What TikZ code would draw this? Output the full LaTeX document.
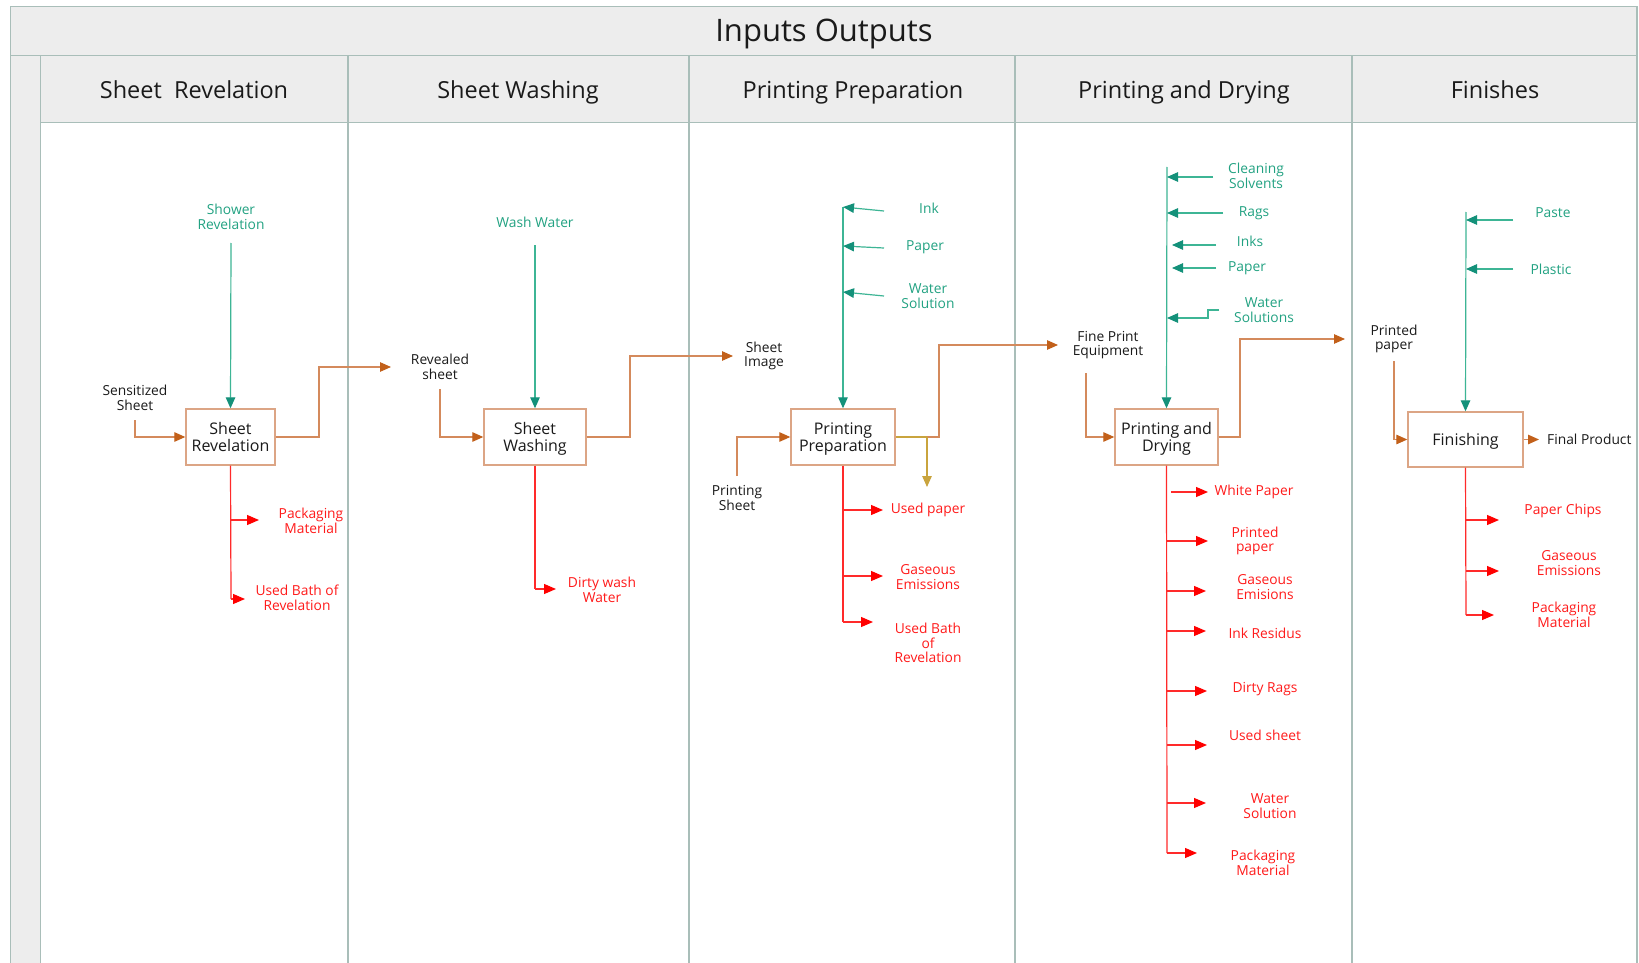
\documentclass[tikz,border=0pt]{standalone}
\usepackage{fontspec}
\setmainfont{Open Sans}
\usetikzlibrary{arrows.meta}
\definecolor{frame}{HTML}{A9BEB9}
\definecolor{hdr}{HTML}{EDEDED}
\definecolor{tealL}{HTML}{3DB595}
\definecolor{tealD}{HTML}{14917A}
\definecolor{tealT}{HTML}{22A282}
\definecolor{orL}{HTML}{D48A5C}
\definecolor{orD}{HTML}{C2601A}
\definecolor{boxB}{HTML}{DCA585}
\definecolor{redL}{HTML}{FF2A2A}
\definecolor{redT}{HTML}{FF1A1A}
\definecolor{goldc}{HTML}{C9A43E}
\definecolor{txt}{HTML}{1A1A1A}
\begin{document}
\begin{tikzpicture}[x=1pt,y=-1pt,
  lbl/.style={inner sep=0pt,align=center,font=\fontsize{13.8}{14.6}\selectfont,text=txt},
  tlbl/.style={lbl,text=tealT},
  rlbl/.style={lbl,text=redT},
  hdrtxt/.style={inner sep=0pt,anchor=base,font=\fontsize{23.5}{26}\selectfont,text=txt},
  procbox/.style={draw=boxB,line width=1.4pt,fill=white,align=center,inner sep=0pt,
     text depth=0pt,font=\fontsize{16}{17}\selectfont,text=txt},
  tealarr/.style={draw=tealL,line width=1.2pt,-{Triangle[length=11pt,width=9.5pt,color=tealD]}},
  orline/.style={draw=orL,line width=1.2pt},
  orarr/.style={orline,-{Triangle[length=11pt,width=9.5pt,color=orD]}},
  redline/.style={draw=redL,line width=1.2pt},
  redarr/.style={redline,-{Triangle[length=12pt,width=10pt,color=red]}},
  goldarr/.style={draw=goldc,line width=1.2pt,-{Triangle[length=11pt,width=9.5pt,color=goldc]}},
  lanel/.style={draw=frame,line width=1.3pt}
]
\useasboundingbox (0,0) rectangle (1639,963);
\fill[white] (0,0) rectangle (1639,963);

% ---------- frame ----------
\filldraw[lanel,fill=hdr] (10.5,6.3) rectangle (1637,55.4);
\filldraw[lanel,fill=hdr] (10.5,55.4) rectangle (40.8,975);
\foreach \xa/\xb in {40.8/348,348/689,689/1015,1015/1352,1352/1637}{
  \filldraw[lanel,fill=hdr] (\xa,55.4) rectangle (\xb,122.3);
  \draw[lanel] (\xa,122.3) -- (\xa,975);
  \draw[lanel] (\xb,122.3) -- (\xb,975);
}
\node[inner sep=0pt,anchor=base,font=\fontsize{31}{34}\selectfont,text=txt] (title) at (824,42) {Inputs Outputs};
\node[hdrtxt] (h1) at (194,98.5) {Sheet\ \ Revelation};
\node[hdrtxt] (h2) at (518,98.5) {Sheet Washing};
\node[hdrtxt] (h3) at (853,98.5) {Printing Preparation};
\node[hdrtxt] (h4) at (1184,98.5) {Printing and Drying};
\node[hdrtxt] (h5) at (1495,98.5) {Finishes};

% ---------- lane 1 ----------
\node[procbox,minimum width=89pt,minimum height=56pt] (b1) at (230.5,437) {Sheet\\Revelation};
\node[tlbl] (shw) at (231,217) {Shower\\Revelation};
\coordinate (shwS) at (231,243);
\draw[tealarr] (shwS) -- (b1.north);
\node[lbl] (sens) at (135,398) {Sensitized\\Sheet};
\coordinate (sensS) at (135,420);
\draw[orarr] (sensS) |- (b1.west);
\coordinate (o1a) at (319,437);
\coordinate (o1b) at (391,367);
\draw[orarr] (b1.east) -- (o1a) |- (o1b);
\coordinate (r1a) at (231,520);
\coordinate (r1ae) at (259,520);
\coordinate (r1b) at (231,599);
\coordinate (r1be) at (245,599);
\draw[redline] (b1.south) -- (r1b);
\draw[redarr] (r1a) -- (r1ae);
\draw[redarr] (r1b) -- (r1be);
\node[rlbl] (pk1) at (311,521) {Packaging\\Material};
\node[rlbl] (ub1) at (297,598) {Used Bath of\\Revelation};

% ---------- lane 2 ----------
\node[procbox,minimum width=102pt,minimum height=56pt] (b2) at (535,437) {Sheet\\Washing};
\node[tlbl] (ww) at (535,222) {Wash Water};
\coordinate (wwS) at (535,245);
\draw[tealarr] (wwS) -- (b2.north);
\node[lbl] (rev) at (440,367) {Revealed\\sheet};
\coordinate (revS) at (440,389);
\draw[orarr] (revS) |- (b2.west);
\coordinate (o2a) at (630,437);
\coordinate (o2b) at (733,356);
\draw[orarr] (b2.east) -- (o2a) |- (o2b);
\coordinate (r2a) at (535,589);
\coordinate (r2ae) at (556,589);
\draw[redline] (b2.south) -- (r2a);
\draw[redarr] (r2a) -- (r2ae);
\node[rlbl] (dw) at (602,590) {Dirty wash\\Water};

% ---------- lane 3 ----------
\node[procbox,minimum width=104pt,minimum height=56pt] (b3) at (843,437) {Printing\\Preparation};
\node[lbl] (simg) at (764,356) {Sheet\\Image};
\coordinate (t3top) at (843,207);
\draw[tealarr] (t3top) -- (b3.north);
\node[tlbl] (ink) at (929,208) {Ink};
\node[tlbl] (pap3) at (925,247) {Paper};
\node[tlbl] (ws3) at (928,296) {Water\\Solution};
\coordinate (i3a) at (884,211); \coordinate (i3ae) at (843,207);
\coordinate (i3b) at (884,248); \coordinate (i3be) at (843,246);
\coordinate (i3c) at (884,296); \coordinate (i3ce) at (843,292);
\draw[tealarr] (i3a) -- (i3ae);
\draw[tealarr] (i3b) -- (i3be);
\draw[tealarr] (i3c) -- (i3ce);
\node[lbl] (psh) at (737,498) {Printing\\Sheet};
\coordinate (pshN) at (737,476);
\draw[orarr] (pshN) |- (b3.west);
\coordinate (o3j) at (927,437);
\coordinate (o3a) at (939,437);
\coordinate (o3b) at (1058,345);
\draw[draw=goldc,line width=1.2pt] (b3.east) -- (o3j);
\draw[orarr] (o3j) -- (o3a) |- (o3b);
\coordinate (g3) at (927,487);
\draw[goldarr] (o3j) -- (g3);
\coordinate (r3a) at (843,510); \coordinate (r3ae) at (883,510);
\coordinate (r3b) at (843,576); \coordinate (r3be) at (883,576);
\coordinate (r3c) at (843,622); \coordinate (r3ce) at (873,622);
\draw[redline] (b3.south) -- (r3c);
\draw[redarr] (r3a) -- (r3ae);
\draw[redarr] (r3b) -- (r3be);
\draw[redarr] (r3c) -- (r3ce);
\node[rlbl] (up3) at (928,510) {Used paper};
\node[rlbl] (ge3) at (928,577) {Gaseous\\Emissions};
\node[rlbl] (ub3) at (928,643) {Used Bath\\of\\Revelation};

% ---------- lane 4 ----------
\node[procbox,minimum width=103pt,minimum height=56pt] (b4) at (1166.5,437) {Printing and\\Drying};
\node[lbl] (fpe) at (1108,345) {Fine Print\\Equipment};
\coordinate (fpeS) at (1086,373);
\draw[orarr] (fpeS) |- (b4.west);
\coordinate (t4top) at (1167,167);
\draw[tealarr] (t4top) -- (b4.north);
\node[tlbl] (cs) at (1256,176) {Cleaning\\Solvents};
\node[tlbl] (rags) at (1254,213) {Rags};
\node[tlbl] (inks) at (1250,241) {Inks};
\node[tlbl] (pap4) at (1247,268) {Paper};
\node[tlbl] (ws4) at (1264,310) {Water\\Solutions};
\coordinate (i4a) at (1213,177); \coordinate (i4ae) at (1167,177);
\coordinate (i4b) at (1223,213); \coordinate (i4be) at (1167,213);
\coordinate (i4c) at (1216,245); \coordinate (i4ce) at (1172,245);
\coordinate (i4d) at (1216,268); \coordinate (i4de) at (1172,268);
\coordinate (i4e) at (1219,310); \coordinate (i4e1) at (1208,310);
\coordinate (i4e2) at (1208,318); \coordinate (i4ee) at (1167,318);
\draw[tealarr] (i4a) -- (i4ae);
\draw[tealarr] (i4b) -- (i4be);
\draw[tealarr] (i4c) -- (i4ce);
\draw[tealarr] (i4d) -- (i4de);
\draw[tealarr] (i4e) -- (i4e1) -- (i4e2) -- (i4ee);
\coordinate (o4a) at (1240,437);
\coordinate (o4b) at (1345,339);
\draw[orarr] (b4.east) -- (o4a) |- (o4b);
\coordinate (r4end) at (1167,853);
\draw[redline] (b4.south) -- (r4end);
\foreach \yy/\xs/\xe/\nm in {492/1171/1208/a,541/1167/1208/b,591/1167/1206/c,631/1167/1206/d,691/1167/1207/e,745/1167/1207/f,803/1167/1206/g,853/1167/1197/h}{
  \coordinate (r4\nm) at (\xs,\yy);
  \coordinate (r4\nm e) at (\xe,\yy);
  \draw[redarr] (r4\nm) -- (r4\nm e);
}
\node[rlbl] (wp4) at (1254,492) {White Paper};
\node[rlbl] (pp4) at (1255,541) {Printed\\paper};
\node[rlbl] (ge4) at (1265,587) {Gaseous\\Emisions};
\node[rlbl] (ir4) at (1265,633) {Ink Residus};
\node[rlbl] (dr4) at (1265,689) {Dirty Rags};
\node[rlbl] (us4) at (1265,735) {Used sheet};
\node[rlbl] (wso4) at (1270,806) {Water\\Solution};
\node[rlbl] (pk4) at (1263,863) {Packaging\\Material};

% ---------- lane 5 ----------
\node[procbox,minimum width=115pt,minimum height=55pt] (b5) at (1465.5,439.5) {Finishing};
\node[lbl] (ppr) at (1394,339) {Printed\\paper};
\coordinate (pprS) at (1394,361);
\draw[orarr] (pprS) |- (b5.west);
\coordinate (t5top) at (1466,212);
\draw[tealarr] (t5top) -- (b5.north);
\node[tlbl] (paste) at (1553,213) {Paste};
\node[tlbl] (plas) at (1551,269) {Plastic};
\coordinate (i5a) at (1513,220); \coordinate (i5ae) at (1466,220);
\coordinate (i5b) at (1513,269); \coordinate (i5be) at (1466,269);
\draw[tealarr] (i5a) -- (i5ae);
\draw[tealarr] (i5b) -- (i5be);
\node[lbl,anchor=west] (fp) at (1547,439.5) {Final Product};
\draw[orarr] (b5.east) -- ([xshift=-8pt]fp.west);
\coordinate (r5a) at (1466,520); \coordinate (r5ae) at (1499,520);
\coordinate (r5b) at (1466,571); \coordinate (r5be) at (1499,571);
\coordinate (r5c) at (1466,615); \coordinate (r5ce) at (1494,615);
\draw[redline] (b5.south) -- (r5c);
\draw[redarr] (r5a) -- (r5ae);
\draw[redarr] (r5b) -- (r5be);
\draw[redarr] (r5c) -- (r5ce);
\node[rlbl] (pc5) at (1563,511) {Paper Chips};
\node[rlbl] (ge5) at (1569,563) {Gaseous\\Emissions};
\node[rlbl] (pk5) at (1564,615) {Packaging\\Material};
\end{tikzpicture}
\end{document}
